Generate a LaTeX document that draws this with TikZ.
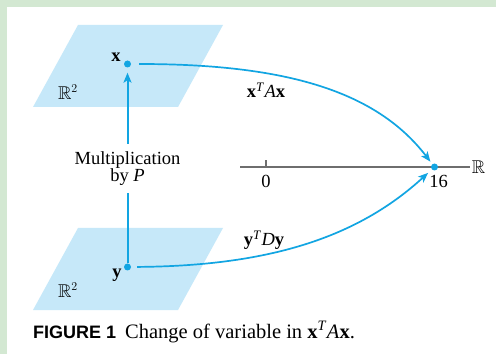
\documentclass[tikz,border=0pt]{standalone}
\usepackage{amssymb}
\usepackage{fontspec}
\setmainfont{Liberation Serif}
\newfontfamily\capfont{Liberation Sans}
\usetikzlibrary{arrows.meta}
\definecolor{bggreen}{HTML}{D3E8D2}
\definecolor{planeblue}{HTML}{C6E8F9}
\definecolor{arrowcyan}{HTML}{12A5E2}
\definecolor{axisgray}{HTML}{6E6E6E}
\begin{document}
\begin{tikzpicture}[x=1pt,y=1pt,
  plane/.style={fill=planeblue, draw=none},
  dot/.style={circle, fill=arrowcyan, inner sep=0pt, minimum size=7pt},
  conn/.style={draw=arrowcyan, line width=1.7pt},
  tipped/.style={-{Stealth[length=10pt,width=8pt,inset=2.5pt]}},
  lbl/.style={font=\fontsize{18.5}{18.5}\selectfont, inner sep=0pt},
]
\useasboundingbox (0,0) rectangle (496,354);
\fill[bggreen] (0,0) rectangle (496,354);
\fill[white] (7,0) rectangle (496,347);
% planes
\fill[plane] (78,329) -- (223,329) -- (178,247) -- (33,247) -- cycle;
\fill[plane] (78,126) -- (223,126) -- (178,44) -- (33,44) -- cycle;
% plane labels
\node[lbl] (R2up) at (68,262) {$\mathbb{R}^2$};
\node[lbl] (R2lo) at (68,64) {$\mathbb{R}^2$};
% points
\node[dot] (xdot) at (127.5,290) {};
\node[dot] (ydot) at (127.5,87) {};
\node[lbl, anchor=base] (xlab) at (116,292) {\textbf{x}};
\node[lbl, anchor=base] (ylab) at (117,77) {\textbf{y}};
% multiplication label
\node[font=\fontsize{18.5}{16.5}\selectfont, align=center, inner xsep=2pt, inner ysep=7pt] (mult) at (127.5,185.5) {Multiplication\\by \textit{P}};
\draw[conn, line width=2pt] (ydot) -- (mult.south);
\draw[conn, line width=2pt, tipped, shorten >=5pt] (mult.north) -- (xdot);
% real axis
\coordinate (axstart) at (240,187);
\node[lbl, inner xsep=2pt] (Rlab) at (478.5,187) {$\mathbb{R}$};
\draw[axisgray, line width=1.7pt] (axstart) -- (Rlab.west);
\coordinate (tick0) at (266,187);
\draw[axisgray, line width=1.2pt] (tick0) -- ++(0,7);
\node[lbl, anchor=base] (zero) at (266,166) {0};
\node[dot] (d16) at (434.5,187) {};
\node[lbl, anchor=base] (sixteen) at (438.5,166) {16};
% curves
\draw[conn, tipped, shorten <=8pt, shorten >=3pt] (xdot) .. controls (288,290) and (377,262) .. (d16);
\draw[conn, tipped, shorten <=6pt, shorten >=5pt] (ydot) .. controls (268,88) and (357,116) .. (d16);
\node[lbl, anchor=base] (qx) at (266,256) {\textbf{x}\textsuperscript{\textit{T}}\textit{A}\textbf{x}};
\node[lbl, anchor=base] (qy) at (264,108) {\textbf{y}\textsuperscript{\textit{T}}\textit{D}\textbf{y}};
% caption
\node[anchor=base west, inner sep=0pt, font=\fontsize{20.5}{20.5}\selectfont] (cap) at (33,16) {{\capfont\bfseries\fontsize{18}{18}\selectfont FIGURE 1}\hspace{9pt}Change of variable in \textbf{x}\textsuperscript{\textit{T}}\textit{A}\textbf{x}.};
\end{tikzpicture}
\end{document}
